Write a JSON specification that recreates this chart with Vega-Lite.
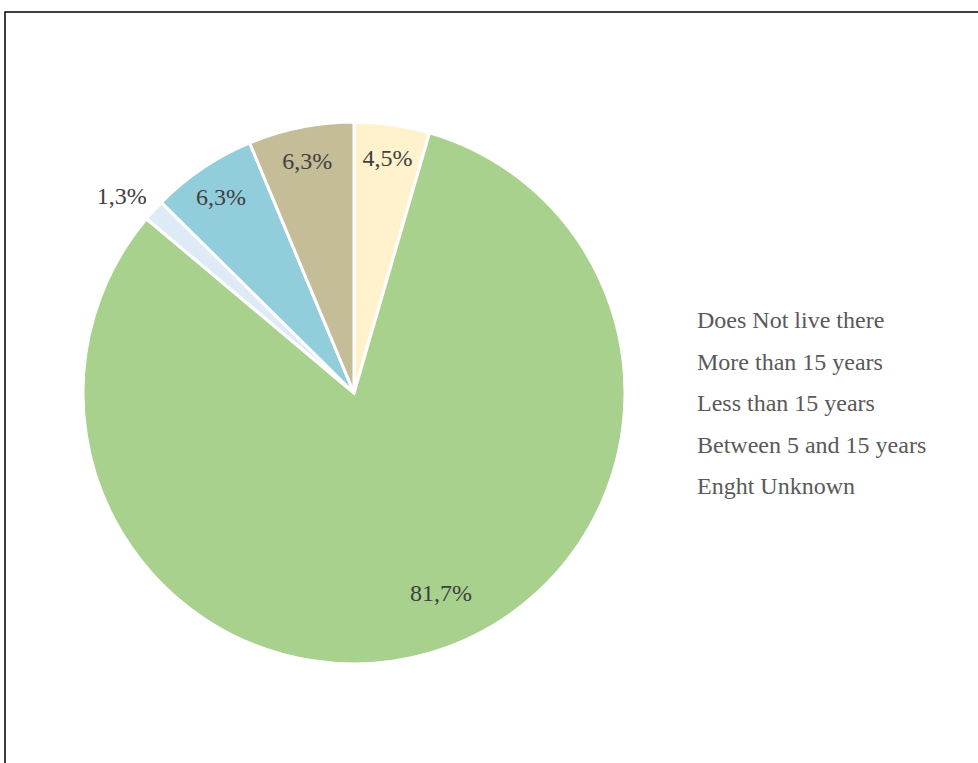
{
  "$schema": "https://vega.github.io/schema/vega-lite/v6.json",
  "autosize": {"type": "none"},
  "padding": {"left": 5, "top": 12, "right": 0, "bottom": 0},
  "width": 1000,
  "height": 800,
  "background": "white",
  "view": {"stroke": "#000000", "strokeWidth": 1.5, "fill": "white"},
  "data": {"values": [
    {"category": "Does Not live there", "pct": 4.5, "label": "4,5%", "order": 1},
    {"category": "More than 15 years", "pct": 81.7, "label": "81,7%", "order": 2},
    {"category": "Less than 15 years", "pct": 1.3, "label": "1,3%", "order": 3},
    {"category": "Between 5 and 15 years", "pct": 6.3, "label": "6,3%", "order": 4},
    {"category": "Enght Unknown", "pct": 6.3, "label": "6,3%", "order": 5}
  ]},
  "encoding": {
    "theta": {"field": "pct", "type": "quantitative", "stack": true},
    "order": {"field": "order", "type": "quantitative"}
  },
  "layer": [
    {
      "mark": {"type": "arc", "outerRadius": 271, "x": 349, "y": 381, "stroke": "white", "strokeWidth": 3},
      "encoding": {
        "color": {
          "field": "category", "type": "nominal",
          "scale": {
            "domain": ["Does Not live there", "More than 15 years", "Less than 15 years", "Between 5 and 15 years", "Enght Unknown"],
            "range": ["#FFF2CC", "#A9D18E", "#DEEBF7", "#92CDDC", "#C4BD97"]
          },
          "legend": {
            "title": null,
            "orient": "none",
            "legendX": 668,
            "legendY": 297,
            "symbolSize": 0,
            "symbolStrokeWidth": 0,
            "symbolOpacity": 0,
            "labelOffset": 0,
            "labelFont": "Liberation Serif",
            "labelFontSize": 24,
            "labelColor": "#595959",
            "rowPadding": 17.5,
            "labelLimit": 400
          }
        }
      }
    },
    {
      "mark": {"type": "text", "radius": 238, "x": 349, "y": 383, "font": "Liberation Serif", "fontSize": 24, "color": "#404040"},
      "encoding": {"text": {"condition": {"test": "datum.pct > 2 && datum.pct < 50", "field": "label"}, "value": ""}}
    },
    {
      "mark": {"type": "text", "radius": 306, "thetaOffset": -0.03, "x": 349, "y": 384, "font": "Liberation Serif", "fontSize": 24, "color": "#404040"},
      "encoding": {"text": {"condition": {"test": "datum.pct <= 2", "field": "label"}, "value": ""}}
    },
    {
      "mark": {"type": "text", "radius": 219, "thetaOffset": -0.113, "x": 349, "y": 381, "font": "Liberation Serif", "fontSize": 24, "color": "#404040"},
      "encoding": {"text": {"condition": {"test": "datum.pct >= 50", "field": "label"}, "value": ""}}
    }
  ]
}
